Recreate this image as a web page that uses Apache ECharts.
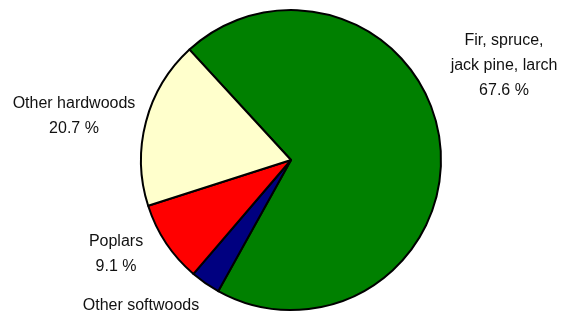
<!DOCTYPE html>
<html>
<head>
<meta charset="utf-8">
<script src="https://cdn.jsdelivr.net/npm/echarts@6/dist/echarts.min.js"></script>
<style>
  html, body { margin: 0; padding: 0; background: #fff; }
  #chart { width: 569px; height: 317px; }
</style>
</head>
<body>
<div id="chart"></div>
<script>
// slice names, clockwise from the top-left edge of the green slice
const names = ["Fir, spruce,\njack pine, larch", "Other softwoods", "Poplars", "Other hardwoods"];
// slice sizes as drawn in the picture (%)
const values = [69.9, 3.2, 8.8, 18.1];
// percentages printed under the labels (softwoods has none)
const shownPct = ["67.6 %", "", "9.1 %", "20.7 %"];
const colors = ["#008000", "#000080", "#FF0000", "#FFFFCC"];

// label centres (layout only)
const labelPos = [[504, 66], [141, 306], [116, 254], [74, 116]];

const chart = echarts.init(document.getElementById("chart"));
chart.setOption({
  animation: false,
  series: [{
    type: "pie",
    center: [291, 160],
    radius: 150,
    startAngle: 132.6,
    clockwise: true,
    avoidLabelOverlap: false,
    itemStyle: { borderColor: "#000", borderWidth: 2 },
    emphasis: { disabled: true },
    labelLine: { show: false },
    label: {
      show: true,
      position: "outside",
      color: "#111",
      fontSize: 16,
      lineHeight: 25,
      fontFamily: "'Liberation Sans', Arial, sans-serif",
      align: "center",
      formatter: p => shownPct[p.dataIndex] ? p.name + "\n" + shownPct[p.dataIndex] : p.name
    },
    labelLayout: p => ({
      x: labelPos[p.dataIndex][0],
      y: labelPos[p.dataIndex][1],
      align: "center",
      verticalAlign: "middle"
    }),
    data: names.map((n, i) => ({ name: n, value: values[i], itemStyle: { color: colors[i] } }))
  }]
});
</script>
</body>
</html>
